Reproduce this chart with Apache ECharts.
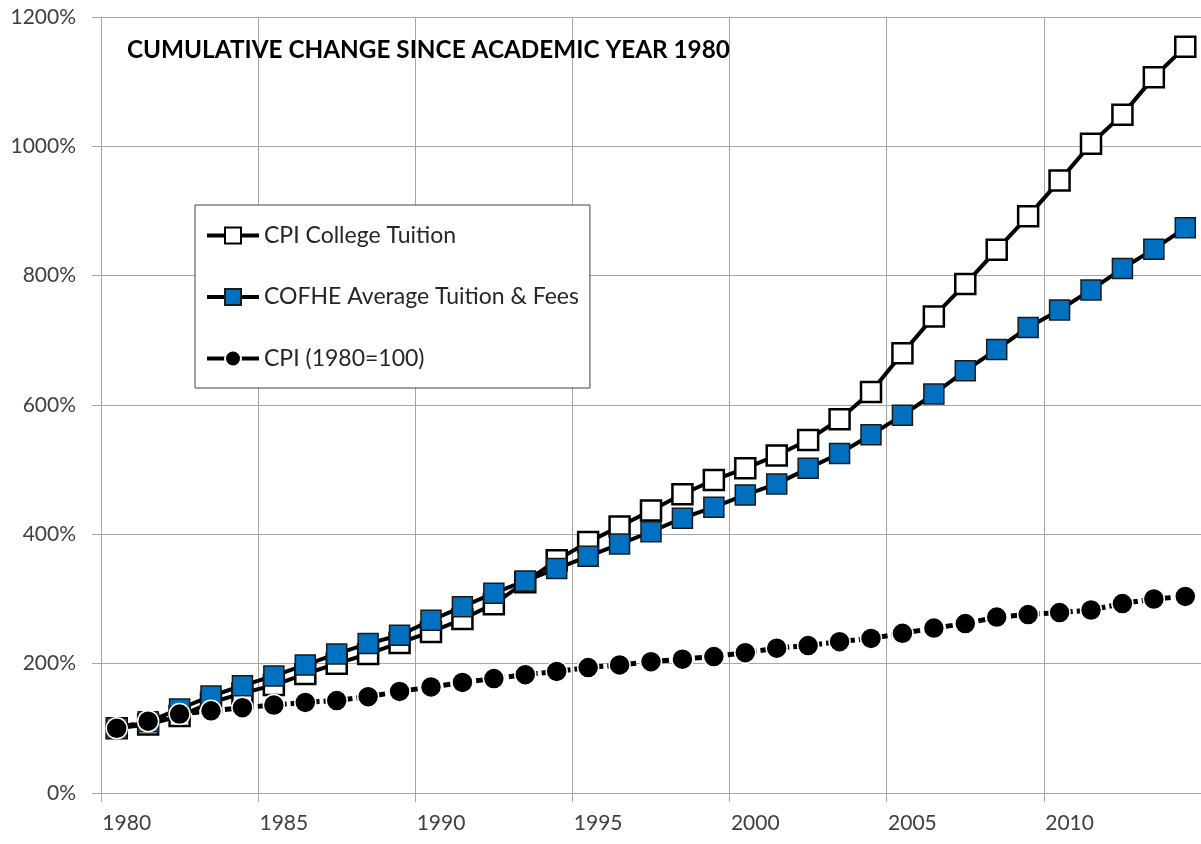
<!DOCTYPE html>
<html>
<head>
<meta charset="utf-8">
<script src="https://cdn.jsdelivr.net/npm/echarts@6/dist/echarts.min.js"></script>
<style>
html,body{margin:0;padding:0;background:#fff;}
#chart{width:1201px;height:844px;}
</style>
</head>
<body>
<div id="chart"></div>
<script>
const years = ['1980','1981','1982','1983','1984','1985','1986','1987','1988','1989','1990','1991','1992','1993','1994','1995','1996','1997','1998','1999','2000','2001','2002','2003','2004','2005','2006','2007','2008','2009','2010','2011','2012','2013','2014'];
const cpiTuition = [100,106,119,140,154,167,184,200,215,232,249,269,292,326,360,388,412,437,462,484,502,522,546,578,620,680,737,787,840,892,947,1004,1049,1107,1154];
const cofhe = [100,110,130,150,166,181,198,215,231,244,267,288,309,328,347,366,385,404,425,442,461,478,502,525,554,584,617,653,686,720,747,778,811,841,874];
const cpi = [100,111,122,127,132,136,140,143,149,157,164,171,177,183,188,194,198,203,207,211,217,224,228,234,239,247,255,262,272,276,279,283,293,300,304];
const seriesNames = ['CPI College Tuition','COFHE Average Tuition & Fees','CPI (1980=100)'];
const titleText = 'CUMULATIVE CHANGE SINCE ACADEMIC YEAR 1980';

const FONT = 'Lato';
const gridColor = '#a6a6a6';
const chart = echarts.init(document.getElementById('chart'), null, {renderer:'canvas'});
chart.setOption({
  backgroundColor:'#ffffff',
  animation:false,
  grid:{left:101, top:17, right:-3, bottom:51, containLabel:false},
  graphic:[{
    type:'text', left:127, top:38, z:10,
    style:{text:titleText, font:'bold 24.3px Lato', fill:'#000000'}
  }],
  legend:{
    orient:'vertical', left:195, top:205,
    data:seriesNames,
    backgroundColor:'#ffffff',
    borderColor:'#404040', borderWidth:1,
    padding:[19,11,18,10],
    itemWidth:52, itemHeight:20, itemGap:38.5,
    lineStyle:{type:'solid', width:4, color:'#000'},
    textStyle:{fontFamily:FONT, fontSize:23, color:'#262626'}
  },
  xAxis:{
    type:'category', data:years, boundaryGap:true,
    axisLine:{show:true, lineStyle:{color:gridColor, width:1}},
    axisTick:{show:true, interval:4, length:9, lineStyle:{color:gridColor}},
    splitLine:{show:true, interval:4, lineStyle:{color:gridColor, width:1}},
    axisLabel:{interval:4, fontFamily:FONT, fontSize:21, color:'#404040', margin:20, padding:[0,0,0,20]}
  },
  yAxis:{
    type:'value', min:0, max:1200, interval:200,
    axisLine:{show:true, lineStyle:{color:gridColor, width:1}},
    axisTick:{show:true, length:9, lineStyle:{color:gridColor}},
    splitLine:{show:true, lineStyle:{color:gridColor, width:1}},
    axisLabel:{formatter:function(v){return v + '%';}, fontFamily:FONT, fontSize:21, color:'#404040', margin:25}
  },
  series:[
    {
      name:seriesNames[0], type:'line', data:cpiTuition,
      symbol:'rect', symbolSize:20, showAllSymbol:true,
      lineStyle:{color:'#000', width:4},
      itemStyle:{color:'#ffffff', borderColor:'#000', borderWidth:2.5}
    },
    {
      name:seriesNames[1], type:'line', data:cofhe,
      symbol:'rect', symbolSize:20, showAllSymbol:true,
      lineStyle:{color:'#000', width:4},
      itemStyle:{color:'#0070C0', borderColor:'#1a1a1a', borderWidth:1.5}
    },
    {
      name:seriesNames[2], type:'line', data:cpi,
      symbol:'circle', symbolSize:21, showAllSymbol:true,
      lineStyle:{color:'#000', width:5, type:[7,4]},
      itemStyle:{color:'#000', borderColor:'#ffffff', borderWidth:1.5}
    }
  ]
});
</script>
</body>
</html>
